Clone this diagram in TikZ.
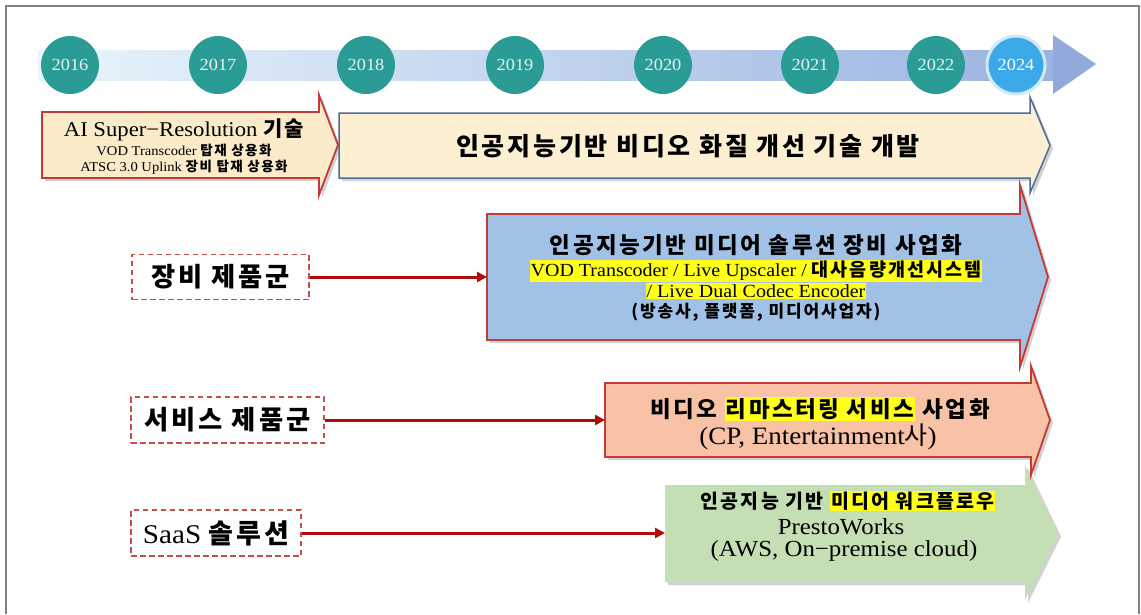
\documentclass[tikz,border=0pt]{standalone}
\usepackage{fontspec}
\setmainfont{Liberation Serif}[FakeStretch=1.08]
\newfontfamily\kr{Noto Sans CJK KR}[LetterSpace=11]
\usetikzlibrary{arrows.meta}

\definecolor{framegray}{HTML}{808080}
\definecolor{tlL}{HTML}{E8F5FB}
\definecolor{tlR}{HTML}{9CB3E1}
\definecolor{tlHead}{HTML}{92AADB}
\definecolor{teal1}{HTML}{2A9C95}
\definecolor{yrtext}{HTML}{E4F3F1}
\definecolor{blue24}{HTML}{3BA8E8}
\definecolor{ring24}{HTML}{CFE9F8}
\definecolor{cream1}{HTML}{FCEBC8}
\definecolor{cream2}{HTML}{FDF0D2}
\definecolor{redline}{HTML}{C23B36}
\definecolor{slate}{HTML}{4D6C98}
\definecolor{bluef}{HTML}{A1C1E7}
\definecolor{salmonf}{HTML}{F7C2A6}
\definecolor{greenf}{HTML}{C5DFB5}
\definecolor{connred}{HTML}{B00A0A}
\definecolor{dashred}{HTML}{C4504E}
\definecolor{hly}{HTML}{FFFF1A}

\newcommand\fs[1]{\fontsize{#1}{#1}\selectfont}
\newcommand\K[1]{{\kr #1}}
\newcommand\KB[1]{{\kr\bfseries #1}}
\newcommand\hl[1]{{\setlength\fboxsep{1pt}\colorbox{hly}{#1}}}
\newcommand\bigarrow[8][]{\path[#1] (#2,#3) -- (#5,#3) -- (#5,#6) -- (#8,{(#3+#4)/2}) -- (#5,#7) -- (#5,#4) -- (#2,#4) -- cycle;}

\begin{document}
\begin{tikzpicture}[x=1pt,y=-1pt,
  shadowed/.style={preaction={fill=black,opacity=.18,transform canvas={xshift=3pt,yshift=-3pt}}},
  yr/.style={circle, fill=teal1, minimum size=58pt, inner sep=0pt, text=yrtext, font=\fs{17}},
  dbox/.style={draw=dashred, line width=1.5pt, dash pattern=on 5.5pt off 3.5pt, fill=white, inner sep=0pt},
  connarrow/.style={draw=connred, line width=3pt, -{Triangle[length=10pt,width=10pt]}},
  txt/.style={inner sep=0pt, align=center}]
\useasboundingbox (0,0) rectangle (1141,614);
\fill[white] (0,0) rectangle (1141,614);
\draw[framegray, line width=1.8pt] (6,614) -- (6,6) -- (1139,6) -- (1139,614);

% timeline
\shade[left color=tlL, right color=tlR] (38,50) rectangle (1054,80);
\fill[tlHead] (1053,35) -- (1096,64) -- (1053,94) -- cycle;
\foreach \yy/\xx in {2016/70, 2017/218, 2018/366, 2019/515, 2020/663, 2021/810, 2022/936}
  \node[yr] (y\yy) at (\xx,65) {\yy};
\node[yr, fill=blue24, draw=ring24, line width=3pt, text=white] (y2024) at (1016,65) {2024};

% arrows
\bigarrow[fill=cream1, draw=redline, line width=1.8pt, shadowed]{42}{112}{178}{319}{95}{195}{338}
\bigarrow[fill=cream2, draw=slate, line width=1.5pt, shadowed]{339}{113}{178}{1030}{97}{193}{1050}
\bigarrow[fill=greenf, shadowed]{665}{485}{582}{1025}{465}{600}{1058}
\bigarrow[fill=salmonf, draw=redline, line width=1.8pt, shadowed]{605}{383}{457}{1031}{366}{475}{1050}
\bigarrow[fill=bluef, draw=redline, line width=1.8pt, shadowed]{487}{214}{340}{1020}{185}{367}{1048}

% texts
\node[txt, anchor=base] (a1l1) at (184,136) {\fs{21}AI Super−Resolution \KB{기술}};
\node[txt, anchor=base] (a1l2) at (184,155) {\fs{13.5}VOD Transcoder \KB{탑재 상용화}};
\node[txt, anchor=base] (a1l3) at (184,171) {\fs{13.5}ATSC 3.0 Uplink \KB{장비 탑재 상용화}};

\node[txt] (mainT) at (688,146) {\fs{25}\KB{인공지능기반 비디오 화질 개선 기술 개발}};

\node[txt] (b1) at (756,245) {\fs{22.5}\KB{인공지능기반 미디어 솔루션 장비 사업화}};
\node[txt] (b2) at (756,271) {\fs{18.5}\hl{VOD Transcoder / Live Upscaler / \KB{대사음량개선시스템}}};
\node[txt] (b3) at (756,291) {\fs{18.5}\hl{/ Live Dual Codec Encoder}};
\node[txt] (b4) at (756,312) {\fs{17}\KB{(방송사, 플랫폼, 미디어사업자)}};

\node[txt] (s1) at (820,409) {\fs{22.5}\KB{비디오 \hl{리마스터링 서비스} 사업화}};
\node[txt] (s2) at (818,437) {\fs{25}(CP, Entertainment\K{사})};

\node[txt] (g1) at (848,501) {\fs{19.5}\KB{인공지능 기반 \hl{미디어 워크플로우}}};
\node[txt] (g2) at (841,527) {\fs{23}PrestoWorks};
\node[txt] (g3) at (844,551) {\fs{23}(AWS, On−premise cloud)};

% category boxes
\node[dbox, minimum width=177pt, minimum height=45pt] (box1) at (220.5,277) {\fs{26.3}\KB{장비 제품군}};
\node[dbox, minimum width=193pt, minimum height=46pt] (box2) at (227.5,420) {\fs{26.3}\KB{서비스 제품군}};
\node[dbox, minimum width=170pt, minimum height=46pt] (box3) at (216,533) {\fs{27}SaaS \KB{솔루션}};

\coordinate (blueL) at (487,277);
\coordinate (salL) at (605,420);
\coordinate (grnL) at (665,533);
\draw[connarrow] (box1.east) -- (box1.east -| blueL);
\draw[connarrow] (box2.east) -- (box2.east -| salL);
\draw[connarrow] (box3.east) -- (box3.east -| grnL);
\end{tikzpicture}
\end{document}
